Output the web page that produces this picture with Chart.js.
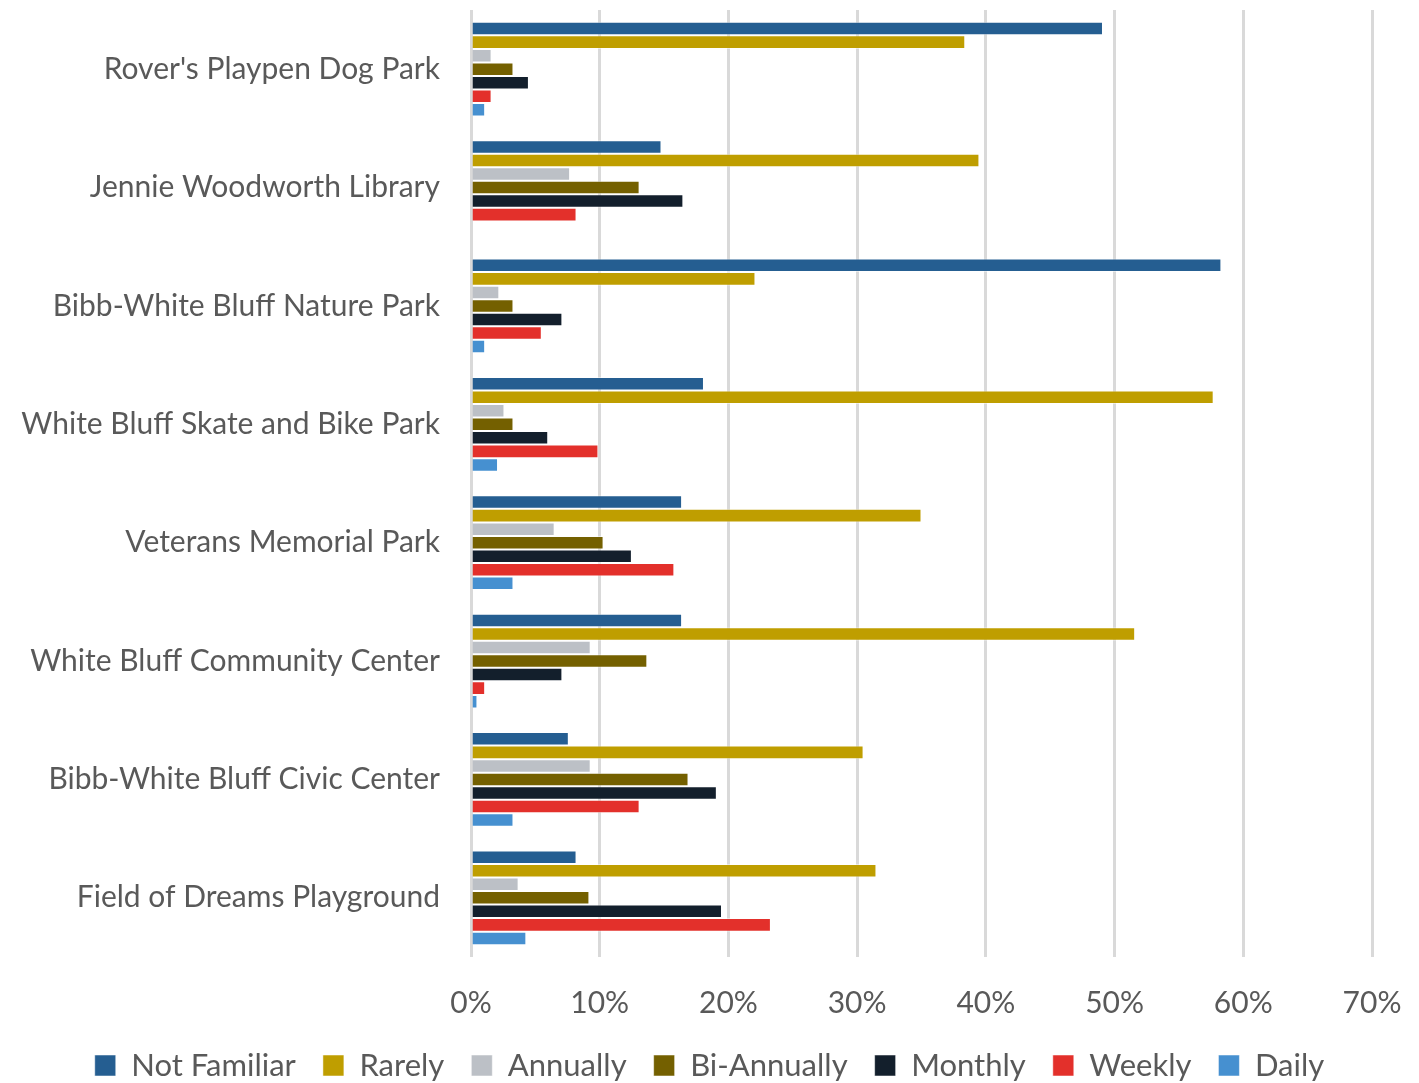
<!DOCTYPE html>
<html>
<head>
<meta charset="utf-8">
<script src="https://cdn.jsdelivr.net/npm/chart.js@4"></script>
<style>
  html, body { margin: 0; padding: 0; background: #fff; }
  #wrap { width: 1419px; height: 1083px; }
</style>
</head>
<body>
<div id="wrap"><canvas id="barChart" width="1419" height="1083"></canvas></div>
<script>
// Data
const places = [
  "Rover's Playpen Dog Park",
  'Jennie Woodworth Library',
  'Bibb-White Bluff Nature Park',
  'White Bluff Skate and Bike Park',
  'Veterans Memorial Park',
  'White Bluff Community Center',
  'Bibb-White Bluff Civic Center',
  'Field of Dreams Playground'
];
const notFamiliar = [49.1, 14.8, 58.3, 18.1, 16.4, 16.4, 7.6, 8.2];
const rarely      = [38.4, 39.5, 22.1, 57.7, 35.0, 51.6, 30.5, 31.5];
const annually    = [1.6, 7.7, 2.2, 2.6, 6.5, 9.3, 9.3, 3.7];
const biAnnually  = [3.3, 13.1, 3.3, 3.3, 10.3, 13.7, 16.9, 9.2];
const monthly     = [4.5, 16.5, 7.1, 6.0, 12.5, 7.1, 19.1, 19.5];
const weekly      = [1.6, 8.2, 5.5, 9.9, 15.8, 1.1, 13.1, 23.3];
const daily       = [1.1, 0, 1.1, 2.1, 3.3, 0.5, 3.3, 4.3];
const xTicks = [0, 10, 20, 30, 40, 50, 60, 70];

const seriesNames = ['Not Familiar', 'Rarely', 'Annually', 'Bi-Annually', 'Monthly', 'Weekly', 'Daily'];
const seriesData = [notFamiliar, rarely, annually, biAnnually, monthly, weekly, daily];
const seriesColors = ['#255e91', '#bf9e00', '#bcc0c6', '#746000', '#131f2c', '#e3302b', '#4690d0'];

const font = "Lato, 'Open Sans', sans-serif";
const textColor = '#595959';

const ctx = document.getElementById('barChart').getContext('2d');
new Chart(ctx, {
  type: 'bar',
  data: {
    labels: places,
    datasets: seriesNames.map((name, i) => ({
      label: name,
      data: seriesData[i],
      backgroundColor: seriesColors[i],
      borderColor: 'rgba(255,255,255,0.5)',
      borderWidth: 1,
      categoryPercentage: 0.8,
      barPercentage: 1.0
    }))
  },
  options: {
    indexAxis: 'y',
    responsive: false,
    animation: false,
    layout: { padding: { left: 0, right: 0, top: 10, bottom: -8 } },
    plugins: {
      tooltip: { enabled: false },
      legend: {
        position: 'bottom',
        labels: {
          color: textColor,
          font: { family: font, size: 31 },
          boxWidth: 21,
          boxHeight: 21,
          padding: 27
        }
      }
    },
    scales: {
      x: {
        min: 0,
        max: 70,
        afterBuildTicks: (axis) => { axis.ticks = xTicks.map(v => ({ value: v })); },
        afterFit: (axis) => { axis.height = 66; axis.paddingLeft = 0; axis.paddingRight = 47; },
        ticks: {
          color: textColor,
          font: { family: font, size: 30 },
          padding: 28,
          maxRotation: 0,
          callback: (v) => v + '%'
        },
        grid: { color: '#d9d9d9', lineWidth: 3, drawTicks: false },
        border: { display: false }
      },
      y: {
        afterFit: (axis) => { axis.width = 471; axis.paddingTop = 0; axis.paddingBottom = 0; },
        ticks: {
          color: textColor,
          font: { family: font, size: 30 },
          padding: 23
        },
        grid: { display: false },
        border: { display: false }
      }
    }
  }
});
</script>
</body>
</html>
